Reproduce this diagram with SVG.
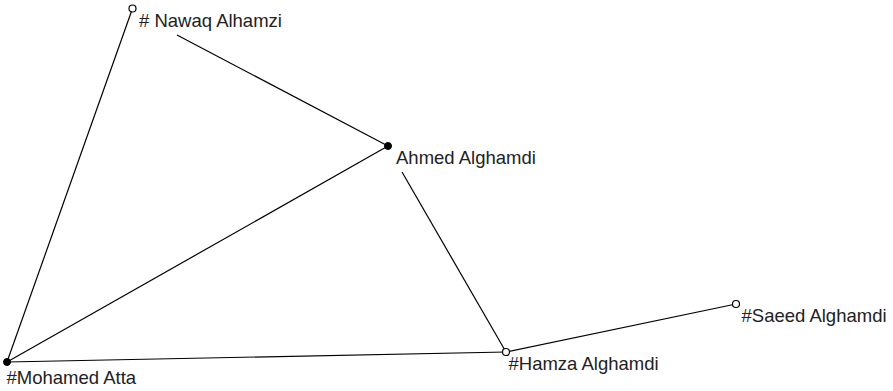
<svg xmlns="http://www.w3.org/2000/svg" width="893" height="391" viewBox="0 0 893 391">
<style>
.e{stroke:#000;stroke-width:1.2;fill:none}
.o{fill:#fff;stroke:#000;stroke-width:1.2}
.f{fill:#000;stroke:#000;stroke-width:1}
text{font-family:"Liberation Sans",Arial,sans-serif;font-size:18.5px;fill:#222}
</style>
<rect width="893" height="391" fill="#fff"/>
<g id="edges">
<line class="e" x1="132.5" y1="8.5" x2="7" y2="362"/>
<line class="e" x1="177" y1="35" x2="388" y2="146"/>
<line class="e" x1="7" y1="362" x2="388" y2="146"/>
<line class="e" x1="7" y1="362" x2="506" y2="352"/>
<line class="e" x1="402" y1="172" x2="506" y2="352"/>
<line class="e" x1="506" y1="352" x2="736" y2="304"/>
</g>
<g id="nawaq"><circle class="o" cx="132.5" cy="8.5" r="3.5"/><text x="139" y="27"># Nawaq Alhamzi</text></g>
<g id="ahmed"><circle class="f" cx="388" cy="146" r="3.5"/><text x="396" y="163.5">Ahmed Alghamdi</text></g>
<g id="mohamed"><circle class="f" cx="7" cy="362" r="3.5"/><text x="6.5" y="383.5">#Mohamed Atta</text></g>
<g id="hamza"><circle class="o" cx="506" cy="352" r="3.5"/><text x="508.5" y="370">#Hamza Alghamdi</text></g>
<g id="saeed"><circle class="o" cx="736" cy="304" r="3.5"/><text x="741.5" y="321.5">#Saeed Alghamdi</text></g>
</svg>
